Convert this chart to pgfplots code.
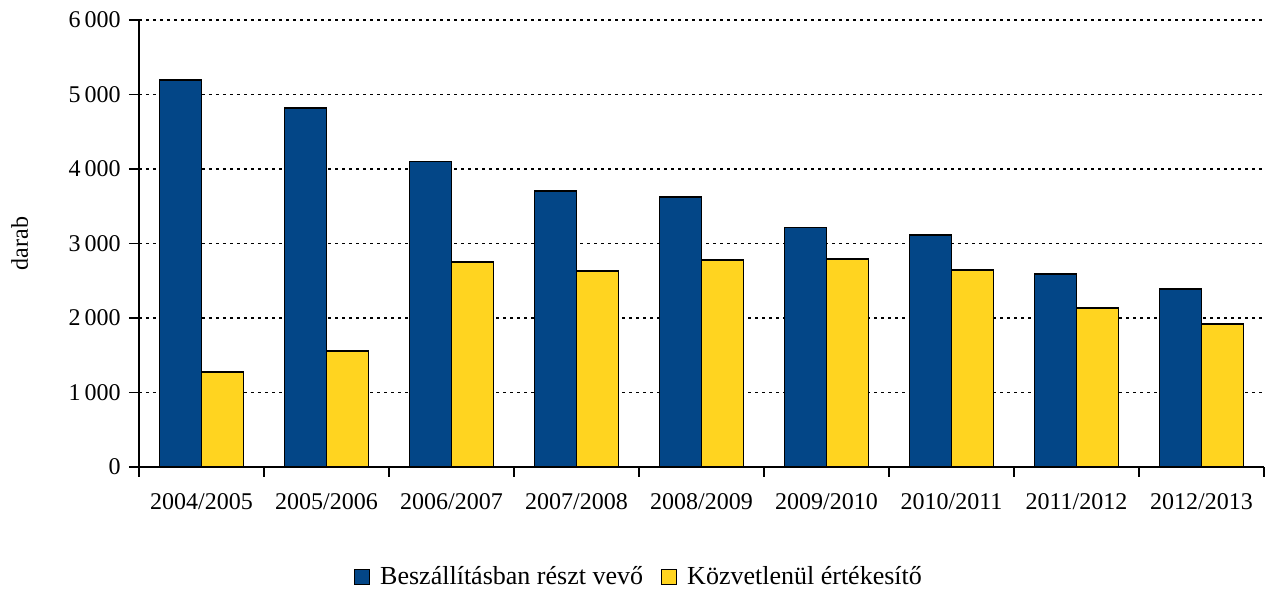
\documentclass[border=0pt]{standalone}
\usepackage{fontspec}
\setmainfont{Liberation Serif}
\usepackage{pgfplots}
\pgfplotsset{compat=1.18}
\definecolor{cblue}{RGB}{3,70,135}
\definecolor{cyellow}{RGB}{255,212,32}
\begin{document}
\fontsize{12}{14.4}\selectfont
\begin{tikzpicture}
\path[use as bounding box] (0,0) rectangle (635pt,299pt);
\begin{axis}[
  at={(69.5pt,65.5pt)}, anchor=south west,
  scale only axis, width=562.5pt, height=223.5pt,
  ybar=0pt, bar width=21pt,
  xmin=-0.5, xmax=8.5, ymin=0, ymax=6000,
  ytick={0,1000,...,6000},
  xtick={0,...,8},
  xticklabels={2004/2005,2005/2006,2006/2007,2007/2008,2008/2009,2009/2010,2010/2011,2011/2012,2012/2013},
  minor xtick={-0.5,0.5,...,8.5},
  major x tick style={draw=none},
  minor x tick style={black, line width=0.8pt},
  major y tick style={black, line width=0.8pt},
  major tick length=5pt, minor tick length=5pt,
  tick align=outside,
  axis x line*=bottom, axis y line*=left,
  axis line style={line width=0.8pt},
  ymajorgrids,
  grid style={black, line width=0.8pt, dash pattern=on 1.5pt off 2pt},
  /pgf/number format/.cd, 1000 sep={\,}, assume math mode=true, /pgfplots/.cd,
  ylabel={darab},
  every axis y label/.style={at={(axis description cs:-0.106,0.5)}, rotate=90, anchor=center},
  xticklabel style={yshift=-4pt},
  legend columns=2,
  legend style={at={(axis description cs:0.4453,-0.246)}, anchor=center, draw=none, fill=none,
    font=\fontsize{13}{15}\selectfont,
    /tikz/every odd column/.append style={column sep=3pt},
    /tikz/every even column/.append style={column sep=7pt}},
  legend image code/.code={\draw[#1, draw=black, line width=0.5pt] (0pt,-3.7pt) rectangle (7.6pt,3.9pt);},
]
\addplot[fill=cblue, draw=black, line width=0.6pt] coordinates {(0,5195) (1,4820) (2,4105) (3,3705) (4,3625) (5,3210) (6,3115) (7,2590) (8,2390)};
\addplot[fill=cyellow, draw=black, line width=0.6pt] coordinates {(0,1275) (1,1557) (2,2752) (3,2631) (4,2779) (5,2792) (6,2644) (7,2134) (8,1919)};
\legend{Beszállításban részt vevő, Közvetlenül értékesítő}
\end{axis}
\end{tikzpicture}
\end{document}
